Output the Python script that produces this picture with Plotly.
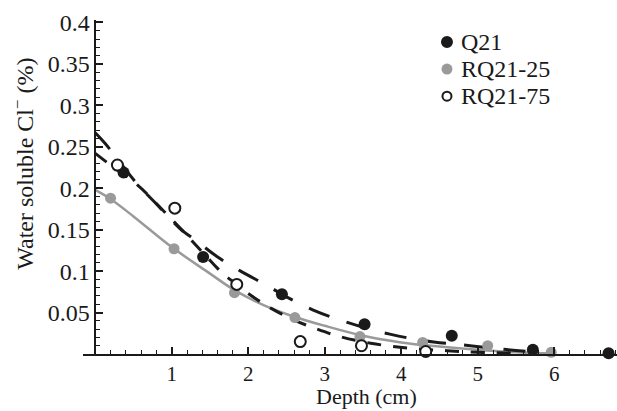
import plotly.graph_objects as go

# Measured points
q21_x = [0.37, 1.41, 2.44, 3.52, 4.66, 5.72, 6.71]
q21_y = [0.219, 0.117, 0.072, 0.036, 0.022, 0.005, 0.001]

rq25_x = [0.20, 1.03, 1.82, 2.61, 3.46, 4.28, 5.13, 5.96]
rq25_y = [0.188, 0.127, 0.074, 0.044, 0.021, 0.014, 0.010, 0.002]

rq75_x = [0.29, 1.04, 1.85, 2.68, 3.48, 4.32]
rq75_y = [0.228, 0.176, 0.084, 0.015, 0.010, 0.003]

# Fitted curves
fitq21_x = [0, 0.13, 0.55, 0.8, 1.1, 1.33, 1.6, 1.9, 2.24, 2.5, 2.85, 3.2, 3.55, 3.85, 4.3, 4.9, 5.3, 5.8]
fitq21_y = [0.267, 0.254, 0.205, 0.181, 0.152, 0.136, 0.117, 0.100, 0.083, 0.069, 0.053, 0.041, 0.031, 0.024, 0.016, 0.010, 0.006, 0.002]

fit25_x = [0, 0.2, 0.5, 1.0, 1.5, 1.82, 2.2, 2.6, 3.0, 3.5, 4.0, 4.5, 5.0, 5.5, 6.0]
fit25_y = [0.198, 0.187, 0.166, 0.129, 0.097, 0.077, 0.059, 0.045, 0.034, 0.022, 0.014, 0.009, 0.005, 0.002, 0.0005]

fit75_x = [0, 0.2, 0.55, 0.9, 1.2, 1.45, 1.67, 1.85, 2.0, 2.3, 2.6, 2.9, 3.2, 3.6, 4.1, 4.6, 5.0, 5.5]
fit75_y = [0.242, 0.228, 0.204, 0.172, 0.143, 0.118, 0.097, 0.084, 0.073, 0.055, 0.041, 0.030, 0.021, 0.013, 0.007, 0.004, 0.002, 0.001]

x_ticks = [1, 2, 3, 4, 5, 6]
y_ticks = [0.05, 0.1, 0.15, 0.2, 0.25, 0.3, 0.35, 0.4]
y_ticktext = ["0.05", "0.1", "0.15", "0.2", "0.25", "0.3", "0.35", "0.4"]

legend_names = ["Q21", "RQ21-25", "RQ21-75"]

FONT = "Liberation Serif"
BLACK = "#1a1a1a"
GRAY = "#9a9a9a"
XMIN, XMAX = -0.16, 6.82
FS = 24

fig = go.Figure()
fig.add_trace(go.Scatter(x=fit25_x, y=fit25_y, mode="lines", showlegend=False,
                         line=dict(color=GRAY, width=2.5, shape="spline"), cliponaxis=False))
fig.add_trace(go.Scatter(x=fit75_x, y=fit75_y, mode="lines", showlegend=False,
                         line=dict(color=BLACK, width=3, shape="spline", dash="14px,12px"), cliponaxis=False))
fig.add_trace(go.Scatter(x=fitq21_x, y=fitq21_y, mode="lines", showlegend=False,
                         line=dict(color=BLACK, width=3, shape="spline", dash="22px,18px"), cliponaxis=False))

marker_styles = [
    dict(color=BLACK, size=12),
    dict(color=GRAY, size=11),
    dict(color="white", size=11, line=dict(color=BLACK, width=2)),
]
for name, xs, ys, mk in zip(legend_names, [q21_x, rq25_x, rq75_x], [q21_y, rq25_y, rq75_y], marker_styles):
    fig.add_trace(go.Scatter(x=xs, y=ys, mode="markers", name=name, showlegend=False,
                             marker=mk, cliponaxis=False))

# Legend drawn compactly (paper coordinates)
leg_x_marker = 0.6816
leg_x_text = 0.704
leg_rows = [0.934, 0.853, 0.772]
shapes = []
annotations = []
leg_shape_styles = [
    dict(fillcolor=BLACK, line=dict(color=BLACK, width=0), r=6),
    dict(fillcolor=GRAY, line=dict(color=GRAY, width=0), r=5.5),
    dict(fillcolor="white", line=dict(color=BLACK, width=2), r=4.5),
]
for name, yr, st in zip(legend_names, leg_rows, leg_shape_styles):
    r = st["r"]
    shapes.append(dict(type="circle", xref="paper", yref="paper",
                       xsizemode="pixel", ysizemode="pixel",
                       xanchor=leg_x_marker, yanchor=yr,
                       x0=-r, x1=r, y0=-r, y1=r,
                       fillcolor=st["fillcolor"], line=st["line"]))
    annotations.append(dict(text=name, xref="paper", yref="paper", x=leg_x_text, y=yr,
                            xanchor="left", yanchor="middle", showarrow=False,
                            font=dict(family=FONT, size=FS, color=BLACK)))

annotations += [
    dict(text="Depth (cm)", xref="paper", yref="paper", x=0.53, y=-0.126,
         xanchor="center", yanchor="middle", showarrow=False, borderpad=0,
         font=dict(family=FONT, size=22, color=BLACK)),
    dict(text="Water soluble Cl<sup>−</sup> (%)", xref="paper", yref="paper",
         x=-0.114, y=0.57, xanchor="center", yanchor="middle", textangle=-90,
         showarrow=False, font=dict(family=FONT, size=FS, color=BLACK)),
]

fig.update_layout(
    width=617, height=411,
    margin=dict(l=83, r=0, t=20, b=57),
    paper_bgcolor="white", plot_bgcolor="white",
    font=dict(family=FONT, size=FS, color=BLACK),
    showlegend=False,
    xaxis=dict(
        domain=[0, 1], range=[XMIN, XMAX], anchor="y",
        showgrid=False, zeroline=False,
        showline=True, linecolor=BLACK, linewidth=1.5,
        tickmode="array", tickvals=x_ticks,
        ticks="inside", ticklen=7, tickwidth=1.5, tickcolor=BLACK,
        minor=dict(dtick=0.2, tick0=0, ticks="inside", ticklen=4, tickwidth=1, tickcolor=BLACK),
        tickfont=dict(family=FONT, size=21, color=BLACK),
    ),
    yaxis=dict(
        domain=[0, 1], range=[0, 0.403], anchor="free",
        position=(0 - XMIN) / (XMAX - XMIN),
        showgrid=False, zeroline=False,
        showline=True, linecolor=BLACK, linewidth=1.5,
        tickmode="array", tickvals=y_ticks, ticktext=y_ticktext,
        ticks="inside", ticklen=7, tickwidth=1.5, tickcolor=BLACK,
        minor=dict(dtick=0.01, tick0=0, ticks="inside", ticklen=4, tickwidth=1, tickcolor=BLACK),
        tickfont=dict(family=FONT, size=FS, color=BLACK),
    ),
    shapes=shapes,
    annotations=annotations,
)

fig.write_html("out.html")
